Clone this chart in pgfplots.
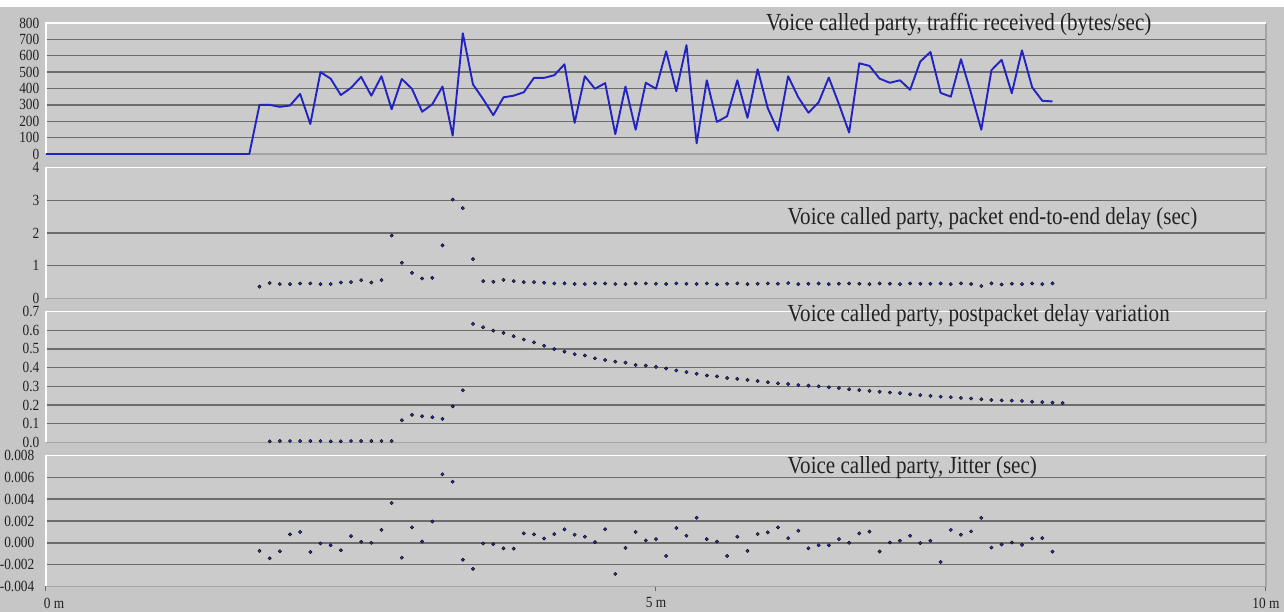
\documentclass[border=0pt]{standalone}
\usepackage{fontspec}
\setmainfont{Liberation Serif}[FakeStretch=0.86]
\usepackage{pgfplots}
\pgfplotsset{compat=1.18}
\usepackage{pgfplotstable}

\definecolor{outerbg}{HTML}{C6C6C6}
\definecolor{innerbg}{HTML}{CBCBCB}
\definecolor{gridc}{HTML}{6C6C6C}
\definecolor{framelo}{HTML}{A4A4A4}
\definecolor{lineblue}{RGB}{35,35,195}
\definecolor{dotblue}{RGB}{50,50,170}
\definecolor{txt}{HTML}{222222}

\pgfplotstableread{
t v
0 0
100 0
105 300
110 300
115 288
120 296
125 367
130 183
135 500
140 460
145 360
150 404
155 471
160 356
165 475
170 273
175 458
180 398
185 258
190 304
195 412
200 112
205 737
210 425
215 335
220 237
225 346
230 356
235 377
240 465
245 465
250 481
255 548
260 190
265 475
270 398
275 433
280 121
285 412
290 148
295 435
300 398
305 627
310 383
315 665
320 65
325 450
330 196
335 231
340 450
345 221
350 517
355 279
360 142
365 475
370 346
375 252
380 315
385 467
390 304
395 131
400 554
405 538
410 460
415 435
420 450
425 392
430 565
435 623
440 373
445 350
450 579
455 370
460 148
465 512
470 575
475 371
480 633
485 408
490 325
495 321
}\traffic

\pgfplotstableread{
t v
105 0.36
110 0.47
115 0.44
120 0.44
125 0.46
130 0.46
135 0.44
140 0.44
145 0.49
150 0.50
155 0.56
160 0.49
165 0.56
170 1.92
175 1.09
180 0.78
185 0.61
190 0.63
195 1.62
200 3.02
205 2.76
210 1.20
215 0.53
220 0.51
225 0.57
230 0.53
235 0.50
240 0.50
245 0.48
250 0.46
255 0.46
260 0.44
265 0.44
270 0.46
275 0.46
280 0.44
285 0.44
290 0.46
295 0.46
300 0.45
305 0.44
310 0.46
315 0.45
320 0.44
325 0.46
330 0.43
335 0.45
340 0.46
345 0.44
350 0.45
355 0.46
360 0.45
365 0.47
370 0.44
375 0.45
380 0.46
385 0.44
390 0.45
395 0.46
400 0.45
405 0.44
410 0.46
415 0.45
420 0.44
425 0.46
430 0.45
435 0.45
440 0.46
445 0.44
450 0.46
455 0.44
460 0.38
465 0.46
470 0.43
475 0.45
480 0.44
485 0.46
490 0.44
495 0.46
}\delay

\pgfplotstableread{
t v
110 0.006
115 0.008
120 0.008
125 0.008
130 0.008
135 0.008
140 0.006
145 0.006
150 0.008
155 0.008
160 0.008
165 0.008
170 0.008
175 0.119
180 0.148
185 0.140
190 0.135
195 0.126
200 0.193
205 0.279
210 0.634
215 0.616
220 0.598
225 0.586
230 0.568
235 0.550
240 0.535
245 0.517
250 0.499
255 0.486
260 0.472
265 0.465
270 0.450
275 0.441
280 0.432
285 0.427
290 0.414
295 0.411
300 0.404
305 0.395
310 0.385
315 0.376
320 0.367
325 0.358
330 0.353
335 0.345
340 0.340
345 0.335
350 0.329
355 0.322
360 0.316
365 0.313
370 0.307
375 0.304
380 0.300
385 0.295
390 0.291
395 0.285
400 0.280
405 0.276
410 0.271
415 0.267
420 0.264
425 0.258
430 0.253
435 0.249
440 0.245
445 0.242
450 0.238
455 0.235
460 0.231
465 0.227
470 0.225
475 0.224
480 0.222
485 0.218
490 0.216
495 0.213
500 0.211
}\pdv

\pgfplotstableread{
t v
105 -0.00074
110 -0.00142
115 -0.00077
120 0.00077
125 0.00099
130 -0.00084
135 -0.00006
140 -0.00022
145 -0.00068
150 0.00062
155 0.00009
160 0.00000
165 0.00118
170 0.00365
175 -0.00136
180 0.00142
185 0.00012
190 0.00195
195 0.00628
200 0.00560
205 -0.00155
210 -0.00238
215 -0.00006
220 -0.00012
225 -0.00050
230 -0.00053
235 0.00087
240 0.00077
245 0.00040
250 0.00080
255 0.00124
260 0.00074
265 0.00056
270 0.00006
275 0.00124
280 -0.00285
285 -0.00046
290 0.00099
295 0.00022
300 0.00034
305 -0.00121
310 0.00136
315 0.00065
320 0.00229
325 0.00034
330 0.00012
335 -0.00121
340 0.00056
345 -0.00074
350 0.00080
355 0.00096
360 0.00142
365 0.00043
370 0.00111
375 -0.00050
380 -0.00022
385 -0.00022
390 0.00034
395 0.00000
400 0.00087
405 0.00102
410 -0.00080
415 0.00003
420 0.00019
425 0.00065
430 -0.00003
435 0.00019
440 -0.00176
445 0.00118
450 0.00074
455 0.00105
460 0.00229
465 -0.00043
470 -0.00015
475 0.00003
480 -0.00019
485 0.00040
490 0.00043
495 -0.00080
}\jitter

\pgfplotsset{
  panel/.style={
    scale only axis, width=1220pt, height=131pt,
    anchor=south west,
    xmin=0, xmax=600,
    axis background/.style={fill=innerbg},
    axis line style={draw=none},
    ymajorgrids, major grid style={draw=gridc, line width=1.4pt},
    xtick=\empty,
    ytick style={draw=none},
    yticklabel style={font=\fontsize{15.5}{15.5}\selectfont, text=txt, inner sep=0pt, xshift=-6.5pt},
    /pgf/number format/assume math mode=true,
    clip=false,
  },
  dots/.style={only marks, mark=*, mark size=1.7pt, mark options={draw=none, fill=dotblue}},
}
\newcommand{\panelframe}{%
  \draw[framelo, line width=1.2pt] (rel axis cs:1,1) -- (rel axis cs:1,0) -- (rel axis cs:0,0);
  \draw[white, line width=1.4pt] (rel axis cs:0,0) -- (rel axis cs:0,1) -- (rel axis cs:1,1);
}

\begin{document}
\begin{tikzpicture}
\fill[outerbg] (0pt,0pt) rectangle (1284pt,612pt);
\fill[white] (0pt,605pt) rectangle (1284pt,612pt);
\useasboundingbox (0pt,0pt) rectangle (1284pt,612pt);

% Panel 1: traffic
\begin{axis}[panel, at={(46pt,458pt)},
  ymin=0, ymax=800, ytick={0,100,...,800}]
\panelframe
\addplot[lineblue, line width=1.9pt, line join=round] table[x=t,y=v] {\traffic};
\end{axis}

% Panel 2: end-to-end delay
\begin{axis}[panel, at={(46pt,313.5pt)},
  ymin=0, ymax=4, ytick={0,1,2,3,4}]
\panelframe
\addplot[dots] table[x=t,y=v] {\delay};
\end{axis}

% Panel 3: packet delay variation
\begin{axis}[panel, at={(46pt,169.5pt)},
  ymin=0, ymax=0.7, ytick={0,0.1,...,0.7},
  yticklabel style={/pgf/number format/.cd, fixed, fixed zerofill, precision=1}]
\panelframe
\addplot[dots] table[x=t,y=v] {\pdv};
\end{axis}

% Panel 4: jitter
\begin{axis}[panel, at={(46pt,25.5pt)},
  ymin=-0.004, ymax=0.008, ytick={-0.004,-0.002,0,0.002,0.004,0.006,0.008},
  scaled y ticks=false,
  yticklabel style={/pgf/number format/.cd, fixed, fixed zerofill, precision=3},
  xtick={0,300,600}, xticklabels={{\hspace*{16pt}0 m},{5 m},{10 m}},
  xtick pos=bottom,
  tick align=outside, major tick length=5pt,
  xtick style={draw=gridc, line width=1pt},
  xticklabel style={font=\fontsize{15.5}{15.5}\selectfont, text=txt, inner sep=0pt, yshift=-6pt}]
\panelframe
\addplot[dots] table[x=t,y=v] {\jitter};
\end{axis}

\begin{scope}[every node/.style={anchor=base west, inner sep=0pt, text=txt, font=\fontsize{24.5}{24.5}\selectfont}]
\node at (766pt,581pt) {Voice called party, traffic received (bytes/sec)};
\node at (787.5pt,387pt) {Voice called party, packet end-to-end delay (sec)};
\node at (787.5pt,290pt) {Voice called party, postpacket delay variation};
\node at (787.5pt,138pt) {Voice called party, Jitter (sec)};
\end{scope}
\end{tikzpicture}
\end{document}
